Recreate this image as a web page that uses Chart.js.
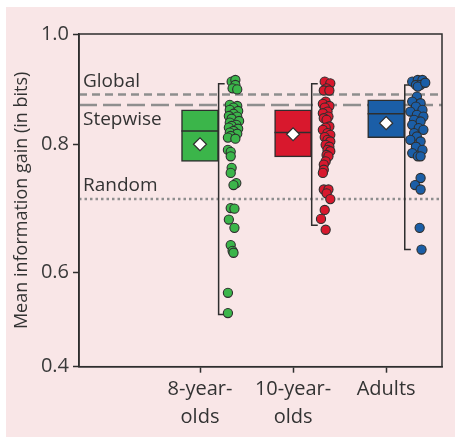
<!DOCTYPE html>
<html>
<head>
<meta charset="utf-8">
<script src="https://cdn.jsdelivr.net/npm/chart.js@4.4.1/dist/chart.umd.min.js"></script>
<style>
  html, body { margin: 0; padding: 0; background: #ffffff; }
  #wrap { position: absolute; left: 6px; top: 7px; width: 449px; height: 430px; background: #f9e6e7; }
</style>
</head>
<body>
<div id="wrap"><canvas id="chart"></canvas></div>
<script>
// Groups and tick labels
const categories = [['8-year-', 'olds'], ['10-year-', 'olds'], ['Adults']];
const catPos = [1, 2, 3];
const yTicks = [0.4, 0.6, 0.8, 1.0];

// Individual scores, jitter is the sideways offset of each dot
const greenValues = [0.914, 0.917, 0.908, 0.902, 0.900, 0.872, 0.870, 0.867, 0.863, 0.861,
    0.856, 0.852, 0.851, 0.847, 0.843, 0.840, 0.836, 0.834, 0.831, 0.829,
    0.825, 0.822, 0.820, 0.816, 0.813, 0.811, 0.792, 0.789, 0.782, 0.764,
    0.756, 0.740, 0.737, 0.701, 0.700, 0.683, 0.670, 0.643, 0.634, 0.631,
    0.557, 0.514];
const greenJitter = [0.34, 0.38, 0.38, 0.35, 0.40, 0.32, 0.40, 0.36, 0.32, 0.41,
    0.36, 0.31, 0.40, 0.34, 0.42, 0.32, 0.39, 0.34, 0.31, 0.41,
    0.36, 0.32, 0.40, 0.33, 0.30, 0.38, 0.30, 0.33, 0.33, 0.34,
    0.33, 0.39, 0.36, 0.33, 0.37, 0.31, 0.37, 0.33, 0.35, 0.36,
    0.30, 0.30];
const redValues = [0.914, 0.911, 0.902, 0.898, 0.898, 0.878, 0.874, 0.870, 0.867, 0.860,
    0.857, 0.851, 0.848, 0.845, 0.833, 0.831, 0.827, 0.821, 0.818, 0.814,
    0.809, 0.806, 0.800, 0.797, 0.792, 0.790, 0.784, 0.782, 0.774, 0.769,
    0.761, 0.756, 0.730, 0.730, 0.724, 0.715, 0.698, 0.684, 0.667];
const redJitter = [0.34, 0.40, 0.36, 0.33, 0.39, 0.35, 0.32, 0.39, 0.34, 0.37,
    0.32, 0.38, 0.33, 0.36, 0.39, 0.35, 0.32, 0.37, 0.40, 0.34,
    0.37, 0.40, 0.35, 0.39, 0.37, 0.40, 0.36, 0.38, 0.35, 0.33,
    0.33, 0.32, 0.33, 0.38, 0.36, 0.40, 0.34, 0.30, 0.35];
const blueValues = [0.914, 0.917, 0.917, 0.908, 0.908, 0.905, 0.912, 0.887, 0.878, 0.875,
    0.869, 0.863, 0.860, 0.854, 0.851, 0.845, 0.842, 0.836, 0.830, 0.827,
    0.821, 0.815, 0.809, 0.806, 0.797, 0.792, 0.787, 0.782, 0.782, 0.748,
    0.737, 0.730, 0.670, 0.636];
const blueJitter = [0.28, 0.34, 0.39, 0.32, 0.37, 0.34, 0.42, 0.33, 0.28, 0.37,
    0.32, 0.39, 0.26, 0.33, 0.40, 0.30, 0.37, 0.28, 0.35, 0.40,
    0.30, 0.33, 0.26, 0.37, 0.32, 0.39, 0.28, 0.34, 0.37, 0.37,
    0.31, 0.37, 0.36, 0.38];

// Box summaries per group
const q1 = [0.774, 0.781, 0.813];
const q3 = [0.863, 0.863, 0.881];
const medians = [0.825, 0.822, 0.856];
const means = [0.801, 0.819, 0.839];
const whiskerLow = [0.511, 0.674, 0.636];
const whiskerHigh = [0.910, 0.910, 0.908];

// Model reference lines
const refNames = ['Global', 'Stepwise', 'Random'];
const refValues = [0.891, 0.872, 0.715];

const groupColors = ['#3bb54a', '#d8182d', '#1b5ea7'];
const ink = '#2e2e2e';
const refGray = '#8e8e8e';
const font = 'Open Sans';

// The printed y axis is not evenly spaced, so ticks sit at these fractions of the height
const yStops = [0, 0.283, 0.667, 1];
function valueToDecimal(v) {
    let i = 0;
    while (i < yTicks.length - 2 && v > yTicks[i + 1]) i++;
    const t = (v - yTicks[i]) / (yTicks[i + 1] - yTicks[i]);
    return yStops[i] + t * (yStops[i + 1] - yStops[i]);
}
function decimalToValue(d) {
    let i = 0;
    while (i < yStops.length - 2 && d > yStops[i + 1]) i++;
    const t = (d - yStops[i]) / (yStops[i + 1] - yStops[i]);
    return yTicks[i] + t * (yTicks[i + 1] - yTicks[i]);
}
class StopScale extends Chart.LinearScale {
    getPixelForValue(value) { return this.getPixelForDecimal(valueToDecimal(value)); }
    getValueForPixel(pixel) { return decimalToValue(this.getDecimalForPixel(pixel)); }
}
StopScale.id = 'stops';
StopScale.defaults = Chart.LinearScale.defaults;
Chart.register(StopScale);

const datasets = [];
const pointSets = [[greenValues, greenJitter], [redValues, redJitter], [blueValues, blueJitter]];

// mean diamonds on top
datasets.push({
    type: 'scatter',
    data: means.map((m, i) => ({ x: catPos[i], y: m })),
    pointStyle: 'rectRot',
    pointRadius: 6.5,
    backgroundColor: '#ffffff',
    borderColor: ink,
    borderWidth: 1.2,
    order: 0
});

pointSets.forEach(([vals, jit], g) => {
    datasets.push({
        type: 'scatter',
        data: vals.map((v, i) => ({ x: catPos[g] + jit[i], y: v })),
        pointRadius: 4.6,
        backgroundColor: groupColors[g],
        borderColor: ink,
        borderWidth: 1.1,
        order: 1
    });
    // whisker bracket
    datasets.push({
        type: 'line',
        data: [
            { x: catPos[g] + 0.265, y: whiskerHigh[g] },
            { x: catPos[g] + 0.2, y: whiskerHigh[g] },
            { x: catPos[g] + 0.2, y: whiskerLow[g] },
            { x: catPos[g] + 0.265, y: whiskerLow[g] }
        ],
        borderColor: ink,
        borderWidth: 1.5,
        pointRadius: 0,
        fill: false,
        order: 2
    });
    // median line
    datasets.push({
        type: 'line',
        data: [{ x: catPos[g] - 0.2, y: medians[g] }, { x: catPos[g] + 0.2, y: medians[g] }],
        borderColor: ink,
        borderWidth: 1.5,
        pointRadius: 0,
        fill: false,
        order: 3
    });
});

// boxes
datasets.push({
    type: 'bar',
    data: catPos.map((c, i) => ({ x: c, y: [q1[i], q3[i]] })),
    backgroundColor: groupColors,
    borderColor: ink,
    borderWidth: 1.5,
    borderSkipped: false,
    barThickness: 37,
    order: 4
});

// reference lines
const refDash = [[8, 5], [18, 6], [2.5, 3]];
refValues.forEach((v, i) => {
    datasets.push({
        type: 'line',
        data: [{ x: -0.3, y: v }, { x: 3.6, y: v }],
        borderColor: refGray,
        borderWidth: 2.5,
        borderDash: refDash[i],
        pointRadius: 0,
        fill: false,
        order: 5
    });
});

const framePlugin = {
    id: 'frame',
    afterDraw(chart) {
        const { ctx, chartArea: a, scales } = chart;
        ctx.save();
        ctx.strokeStyle = ink;
        ctx.lineWidth = 1.5;
        ctx.strokeRect(a.left, a.top, a.right - a.left, a.bottom - a.top);
        ctx.fillStyle = '#333333';
        ctx.font = '19px "' + font + '"';
        ctx.textBaseline = 'middle';
        ctx.textAlign = 'left';
        const shift = [-13, 15, -13];
        refNames.forEach((name, i) => {
            ctx.fillText(name, a.left + 4, scales.y.getPixelForValue(refValues[i]) + shift[i]);
        });
        ctx.restore();
    }
};

new Chart(document.getElementById('chart'), {
    type: 'scatter',
    data: { datasets },
    options: {
        responsive: true,
        maintainAspectRatio: false,
        animation: false,
        layout: { padding: { left: 0, top: 27, right: 13, bottom: 0 } },
        plugins: { legend: { display: false }, tooltip: { enabled: false } },
        scales: {
            x: {
                type: 'linear',
                min: -0.3,
                max: 3.6,
                offset: false,
                afterBuildTicks: s => { s.ticks = catPos.map(v => ({ value: v })); },
                afterFit: s => { s.height = 70.3; },
                ticks: {
                    autoSkip: false,
                    maxRotation: 0,
                    padding: 3,
                    color: '#333333',
                    font: { family: font, size: 20, lineHeight: 1.4 },
                    callback: (v, i) => categories[i]
                },
                grid: { drawOnChartArea: false, offset: false, tickLength: 6, tickColor: ink, tickWidth: 1.5 },
                border: { color: ink, width: 1.5 }
            },
            y: {
                type: 'stops',
                min: 0.4,
                max: 1.0,
                afterBuildTicks: s => { s.ticks = yTicks.map(v => ({ value: v })); },
                afterFit: s => { s.width = 73; },
                ticks: {
                    padding: 4,
                    color: '#3a3a3a',
                    font: { family: font, size: 20 },
                    callback: v => v.toFixed(1)
                },
                grid: { drawOnChartArea: false, tickLength: 6, tickColor: ink, tickWidth: 1.5 },
                border: { color: ink, width: 1.5 },
                title: {
                    display: true,
                    text: 'Mean information gain (in bits)',
                    color: '#333333',
                    font: { family: font, size: 18 },
                    padding: { top: 5, bottom: 0 }
                }
            }
        }
    },
    plugins: [framePlugin]
});
</script>
</body>
</html>
